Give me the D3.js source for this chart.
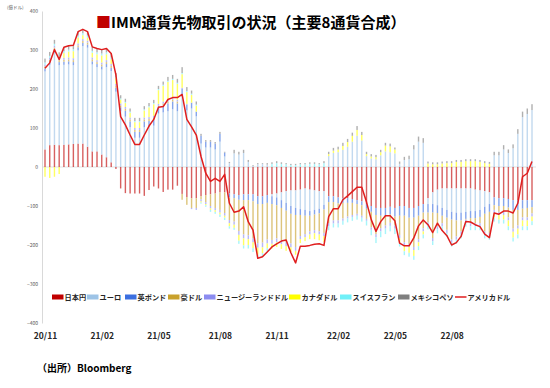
<!DOCTYPE html>
<html><head><meta charset="utf-8">
<script src="https://cdn.jsdelivr.net/npm/d3@7/dist/d3.min.js"></script>
<style>
html,body{margin:0;padding:0;background:#fff;}
svg{display:block;}
text{font-family:"Noto Sans CJK JP","Noto Sans",sans-serif;}
</style></head>
<body>
<svg id="chart" width="550" height="388"></svg>
<script>
// ---- data (億ドル, weekly) ----
const seriesNames = ["日本円","ユーロ","英ポンド","豪ドル","ニュージーランドドル","カナダドル","スイスフラン","メキシコペソ"];
const lineName = "アメリカドル";
const tickLabels = ["20/11","21/02","21/05","21/08","21/11","22/02","22/05","22/08"];
const tickIdx = [0,12,24,37,49,62,74,86];
const yTicks = [400,300,200,100,0,-100,-200,-300,-400];

const jpy = [45,56,57,56,57,58,59,60,60,52,40,40,32,25,12,
 -5,-55,-67,-68,-68,-68,-74,-59,-50,-55,-64,-58,-58,-48,-69,-77,-80,-80,
 -75,-72,-70,-68,-65,-65,-68,-70,-72,-70,-70,-70,-75,-75,-72,
 -70,-68,-65,-62,-60,-60,-58,-55,-58,-60,-62,-62,
 -75,-75,-78,-80,-80,-82,-85,-88,-95,-100,-105,-105,-105,-102,-105,
 -100,-100,-105,-105,-100,-95,-80,-65,-58,-55,-55,-55,-55,-55,-55,-55,-58,-60,-62,-65,
 -78,-80,-80,-82,-85,-85,-85,-85,-85];
const eur = [200,206,236,205,205,205,202,239,250,254,223,216,218,231,234,
 193,143,129,102,75,75,102,103,106,137,140,143,148,143,180,145,150,130,
 60,50,50,45,65,27,10,35,32,36,13,3,7,8,6,
 -5,-10,-20,-30,-40,-45,-50,-55,-55,-50,-45,-35,
 28,36,38,44,52,65,80,68,28,22,20,30,40,38,35,
 8,18,20,45,65,62,-15,-30,-40,-50,-55,-60,-62,-62,-60,-58,-55,-50,-40,-30,
 30,30,45,36,48,85,128,136,146];
const gbp = [8,8,8,8,8,8,8,8,8,8,8,8,8,8,8,
 10,10,15,15,15,15,15,15,15,15,18,20,20,20,20,15,15,12,
 20,15,15,15,20,10,-10,-10,-12,-15,-15,-18,-20,-20,-20,
 -20,-20,-20,-20,-20,-18,-15,-15,-12,-12,-12,-12,
 -15,-15,-15,-12,-12,-10,-10,-10,-12,-15,-18,-20,-20,-20,-22,
 -25,-25,-25,-25,-25,-22,-22,-22,-20,-20,-20,-20,-20,-20,-18,-18,-18,-18,-18,-20,
 -20,-20,-20,-22,-25,-25,-22,-20,-18];
const aud = [5,5,5,5,5,5,5,5,5,5,5,5,5,5,5,
 5,5,5,5,5,5,5,5,5,5,5,5,5,5,-15,-20,-25,-25,
 -8,-18,-30,-37,-45,-53,-58,-60,-80,-88,-90,-95,-100,-99,-94,
 -92,-85,-83,-81,-76,-82,-54,-47,-40,-40,-46,-60,
 -54,-47,-44,-40,-35,-31,-25,-27,-26,-40,-49,-32,-25,-21,-23,
 -49,-68,-67,-75,-60,-40,-25,-65,-34,-19,-31,-51,-41,-28,-2,-13,-13,-16,-45,-54,
 -12,-15,-15,-25,-48,-40,-22,-24,-16];
const nzd = [5,5,5,5,5,5,5,5,5,5,5,5,5,5,5,
 5,5,5,5,5,5,5,5,5,5,5,5,5,5,3,2,-3,-5,
 -5,-5,-6,-6,-7,-7,-8,-8,-10,-10,-10,-10,-12,-12,-10,
 -10,-10,-10,-10,-10,-10,-8,-8,-8,-8,-8,-8,
 -8,-8,-8,-6,-5,-5,-5,-5,-5,-6,-8,-8,-8,-8,-8,
 -8,-8,-8,-8,-8,-8,-8,-8,-8,-8,-8,-8,-8,-8,-8,-8,-8,-8,-8,-8,
 -8,-8,-8,-8,-8,-8,-8,-8,-8];
const cad = [-25,-28,-25,-18,12,15,18,15,10,8,12,15,18,15,12,
 15,10,10,12,15,15,18,25,30,35,40,45,45,40,35,30,20,15,
 -3,-3,-4,-4,-5,-5,-8,-8,-15,-18,-15,-15,-18,-15,-12,
 -12,-12,-12,-12,-12,-10,-10,-10,-12,-15,-15,-15,
 5,6,7,10,12,15,15,14,5,5,5,8,15,15,10,
 -12,-15,-15,-15,-10,-8,9,7,7,9,10,10,13,13,15,15,15,13,10,8,
 -12,-12,-12,-15,-15,-15,-15,-15,-12];
const chf = [5,5,5,5,5,5,5,5,5,5,5,5,5,5,5,
 3,3,3,3,3,3,3,3,3,3,3,3,3,3,3,3,3,3,
 -3,-4,-5,-5,-6,-6,-6,-5,-8,-8,-9,-10,-10,-10,-10,
 8,10,8,7,5,5,7,7,8,8,7,10,
 -10,-10,-10,-10,-10,-10,-10,-10,-12,-14,-15,-15,-14,-14,-14,
 -10,-10,-10,-10,-10,-10,-10,-10,-10,-10,-10,-10,-10,-10,-10,-10,-10,-10,-10,-10,
 -10,-10,-10,-10,-10,-10,-10,-10,-10];
const mxn = [10,10,10,10,10,10,10,10,10,10,10,10,10,10,10,
 10,8,8,8,8,8,8,8,8,8,8,10,10,10,15,10,8,8,
 5,4,4,4,5,2,3,9,7,8,5,2,3,2,4,
 4,5,4,3,3,3,3,3,4,4,3,5,
 6,7,7,8,8,8,10,8,6,6,6,6,7,7,5,
 6,8,9,11,13,12,5,5,5,5,5,5,5,5,5,5,5,5,5,5,
 9,9,11,9,10,12,14,14,15];
const usd = [253,267,301,276,307,311,312,347,353,347,308,304,301,304,291,
 236,129,108,82,58,58,82,105,122,153,155,173,178,178,186,122,103,82,
 27,-16,-37,-29,-37,-19,-93,-116,-113,-102,-141,-162,-234,-230,-218,
 -205,-197,-190,-187,-220,-246,-203,-203,-201,-198,-197,-201,
 -127,-107,-107,-84,-74,-63,-52,-52,-90,-135,-165,-140,-125,-125,-138,
 -195,-202,-202,-182,-151,-136,-148,-168,-144,-163,-176,-200,-194,-178,-140,-141,-148,-153,-172,-181,
 -118,-121,-113,-113,-118,-93,-25,-16,14];

const colors = ["#C00000","#9DC3E6","#3B6FE0","#C9A12B","#8C8CF0","#FFFF00","#70F0F8","#7F7F7F"];
const lineColor = "#E01E1E";

// ---- build ----
const seriesVals = [jpy,eur,gbp,aud,nzd,cad,chf,mxn];
const N = usd.length;
const rows = d3.range(N).map(i => {
  const r = {i};
  seriesNames.forEach((n,k) => r[n] = seriesVals[k][i]);
  return r;
});

const svg = d3.select("#chart");
const x = d3.scaleLinear().domain([0, N-1]).range([45, 532]);
const y = d3.scaleLinear().domain([-400, 400]).range([323, 11]);

// y axis
const yAxis = d3.axisLeft(y).tickValues(yTicks).tickSize(0).tickPadding(4);
const gy = svg.append("g").attr("transform","translate(42,0)").call(yAxis);
gy.select(".domain").attr("stroke","#D9D9D9").attr("stroke-width",1);
gy.selectAll("text").attr("font-size",5).attr("fill","#595959")
  .attr("font-family","Liberation Sans, Arial, sans-serif");
svg.append("text").attr("x",7).attr("y",9).attr("font-size",4.5).attr("fill","#595959").text("(億ドル)");

// zero line
svg.append("line").attr("x1",42).attr("x2",536).attr("y1",y(0)).attr("y2",y(0))
  .attr("stroke","#D9D9D9").attr("stroke-width",0.8);

// stacked bars (positives up, negatives down)
const stack = d3.stack().keys(seriesNames).offset(d3.stackOffsetDiverging);
const stacked = stack(rows);
const bw = 1.4;
svg.append("g").attr("opacity",0.62).selectAll("g").data(stacked).join("g")
  .attr("fill",(d,k)=>colors[k])
  .selectAll("rect").data(d=>d).join("rect")
  .attr("x",d=>x(d.data.i)-bw/2)
  .attr("width",bw)
  .attr("y",d=>y(Math.max(d[0],d[1])))
  .attr("height",d=>Math.abs(y(d[0])-y(d[1])));

// line
const line = d3.line().x((d,i)=>x(i)).y(d=>y(d));
svg.append("path").datum(usd).attr("d",line).attr("fill","none")
  .attr("stroke",lineColor).attr("stroke-width",1.5).attr("stroke-linejoin","round");

// x labels
const xAxis = d3.axisBottom(x).tickValues(tickIdx).tickFormat((d,k)=>tickLabels[k]).tickSize(0).tickPadding(0);
const gx = svg.append("g").attr("transform","translate(0,333)").call(xAxis);
gx.select(".domain").remove();
gx.selectAll("text").attr("font-size",8.5).attr("font-weight","bold").attr("fill","#262626")
  .attr("font-family","Liberation Sans, Arial, sans-serif");

// title
const title = svg.append("text").attr("x",96).attr("y",28).attr("font-size",15).attr("font-weight","bold");
title.append("tspan").attr("fill","#C00000").text("■");
title.append("tspan").attr("fill","#000").text("IMM通貨先物取引の状況（主要8通貨合成）");

// legend
const legItems = seriesNames.map((n,k)=>({name:n,color:colors[k],type:"rect"}))
  .concat([{name:lineName,color:lineColor,type:"line"}]);
const legX = [52,87,125,168,204,289,340,398,455];
const lg = svg.append("g").attr("transform","translate(0,297)");
legItems.forEach((it,k)=>{
  const g = lg.append("g").attr("transform",`translate(${legX[k]},0)`);
  if(it.type==="rect") g.append("rect").attr("x",0).attr("y",-2.5).attr("width",11.5).attr("height",5).attr("fill",it.color);
  else g.append("line").attr("x1",0).attr("x2",11.5).attr("y1",0).attr("y2",0).attr("stroke",it.color).attr("stroke-width",1.5);
  g.append("text").attr("x",12.5).attr("y",2.6).attr("font-size",7.2).attr("font-weight","bold").attr("fill","#262626").text(it.name);
});

// source
svg.append("text").attr("x",37).attr("y",372).attr("font-size",10).attr("font-weight","bold").attr("fill","#000").text("（出所）Bloomberg");
</script>
</body></html>
